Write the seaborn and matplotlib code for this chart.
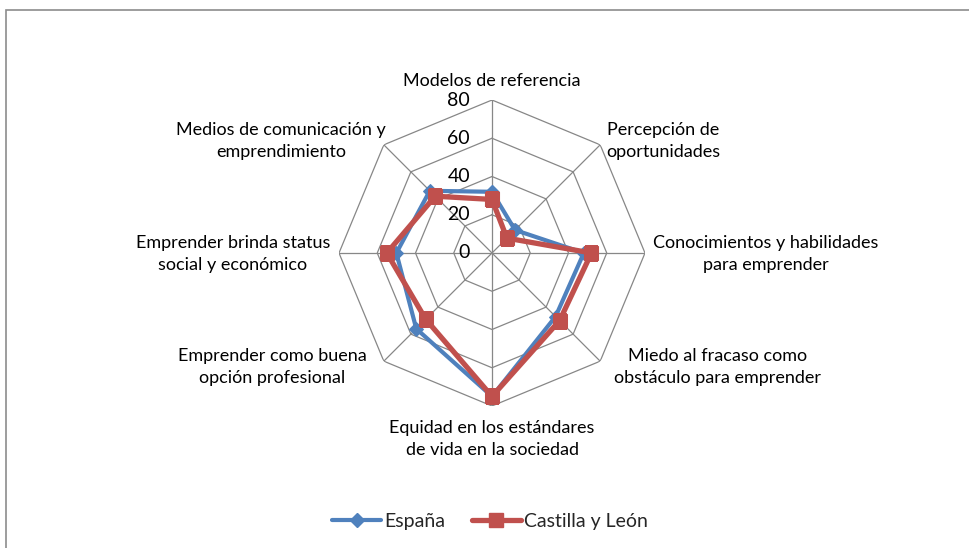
import numpy as np
import pandas as pd
import matplotlib
matplotlib.use("Agg")
import matplotlib.pyplot as plt
import matplotlib.transforms as mtransforms
from matplotlib.lines import Line2D
from matplotlib.patches import Rectangle
import seaborn as sns

categories = [
    "Modelos de referencia",
    "Percepción de\noportunidades",
    "Conocimientos y habilidades\npara emprender",
    "Miedo al fracaso como\nobstáculo para emprender",
    "Equidad en los estándares\nde vida en la sociedad",
    "Emprender como buena\nopción profesional",
    "Emprender brinda status\nsocial y económico",
    "Medios de comunicación y\nemprendimiento",
]
espana = [32, 17, 48, 47, 75, 56, 50, 46]
castilla = [28, 11, 52, 50, 75, 49, 55, 42]
series_names = ["España", "Castilla y León"]
r_ticks = [0, 20, 40, 60, 80]
r_max = 80

sns.set_theme(style="white")
plt.rcParams["font.family"] = ["Lato", "DejaVu Sans"]

W, H, DPI = 969, 548, 100
fig = plt.figure(figsize=(W / DPI, H / DPI), dpi=DPI)

# outer chart frame (only top and left edges visible in reference)
fig.patches.append(Rectangle((6 / W, -0.2), 1.2, (H - 10) / H + 0.2,
                             transform=fig.transFigure, fill=False,
                             edgecolor="#8c8c8c", linewidth=1.2))

cx, cy, R = 492, 253, 153
ax = fig.add_axes([(cx - R) / W, (H - cy - R) / H, 2 * R / W, 2 * R / H],
                  projection="polar")
ax.set_theta_zero_location("N")
ax.set_theta_direction(-1)
ax.set_ylim(0, r_max)
ax.grid(False)
ax.set_xticks([])
ax.set_yticks([])
ax.spines["polar"].set_visible(False)
ax.patch.set_alpha(0)

n = len(categories)
theta = np.arange(n) * 2 * np.pi / n
theta_c = np.append(theta, 2 * np.pi)

grid_col = "#878787"
for r in r_ticks[1:]:
    ax.plot(theta_c, [r] * (n + 1), color=grid_col, lw=0.9, zorder=1)
for t in theta:
    ax.plot([t, t], [0, r_max], color=grid_col, lw=0.9, zorder=1)

df = pd.DataFrame({
    "theta": np.concatenate([theta_c, theta_c]),
    "value": espana + [espana[0]] + castilla + [castilla[0]],
    "serie": [series_names[0]] * (n + 1) + [series_names[1]] * (n + 1),
})

blue, red = "#4F81BD", "#C0504D"
sns.lineplot(data=df[df.serie == series_names[0]], x="theta", y="value",
             sort=False, estimator=None, color=blue, lw=3.0, marker="D",
             markersize=7, markeredgecolor=blue, ax=ax, zorder=3, legend=False)
sns.lineplot(data=df[df.serie == series_names[1]], x="theta", y="value",
             sort=False, estimator=None, color=red, lw=3.8, marker="s",
             markersize=10, markeredgecolor=red, ax=ax, zorder=4, legend=False)
ax.set_xlabel("")
ax.set_ylabel("")
ax.set_ylim(0, r_max)

# radial tick labels
off = mtransforms.offset_copy(ax.transData, fig=fig, x=-22, y=0, units="dots")
for r in r_ticks:
    ax.text(0, r, str(r), transform=off, ha="right", va="center",
            fontsize=14, color="black")

# category labels
label_pos = [(492, 81), (663, 141), (766, 254), (718, 367),
             (492, 439), (272, 367), (233, 254), (281, 141)]
for lab, (px, py) in zip(categories, label_pos):
    fig.text(px / W, 1 - py / H, lab, ha="center", va="center",
             multialignment="center", fontsize=13, linespacing=1.4,
             color="black")

handles = [
    Line2D([], [], color=blue, lw=3.0, marker="D", markersize=7),
    Line2D([], [], color=red, lw=3.8, marker="s", markersize=10),
]
fig.legend(handles, series_names, loc="center", ncol=2,
           bbox_to_anchor=(490 / W, 1 - 521 / H), frameon=False,
           fontsize=14, handlelength=2.5, columnspacing=1.4,
           handletextpad=0.15)

fig.savefig("out.png", dpi=DPI)
